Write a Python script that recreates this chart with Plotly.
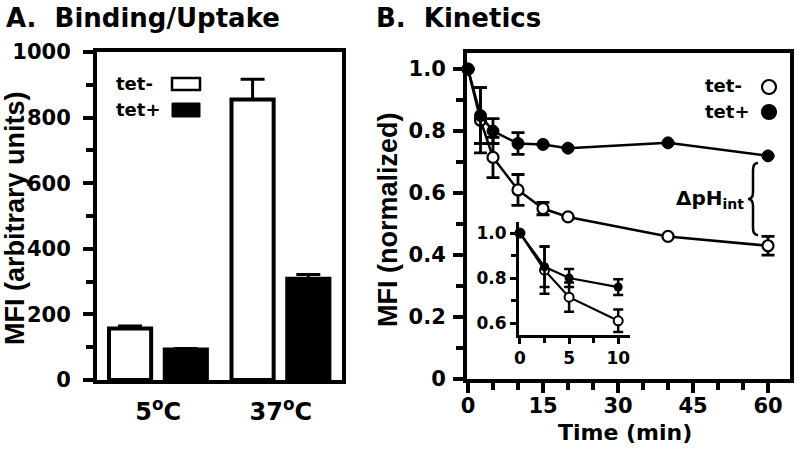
import plotly.graph_objects as go

# ---------------- data ----------------
temps = ["5<sup>o</sup>C", "37<sup>o</sup>C"]
uptake_tet_minus = [157, 855]
uptake_tet_minus_err = [8, 62]
uptake_tet_plus = [93, 309]
uptake_tet_plus_err = [3, 13]

times = [0, 2.5, 5, 10, 15, 20, 40, 60]
mfi_tet_minus = [1.0, 0.835, 0.715, 0.61, 0.55, 0.523, 0.46, 0.43]
mfi_tet_minus_err = [0, 0.105, 0.065, 0.05, 0.02, 0, 0, 0.03]
mfi_tet_plus = [1.0, 0.85, 0.80, 0.76, 0.757, 0.745, 0.762, 0.72]
mfi_tet_plus_err = [0, 0.09, 0.04, 0.035, 0, 0, 0, 0]

inset_max_time = 10

b_yticks = [0, 0.2, 0.4, 0.6, 0.8, 1.0]
b_yticktext = ["0", "0.2", "0.4", "0.6", "0.8", "1.0"]
b_xticks = [0, 15, 30, 45, 60]
inset_yticks = [0.6, 0.8, 1.0]
inset_yticktext = ["0.6", "0.8", "1.0"]
inset_xticks = [0, 5, 10]

W, H = 800, 453
HF = "DejaVu Sans"
VF = "Liberation Sans"


def px(x, y):
    return x / W, 1 - y / H


def dom_x(a, b):
    return [a / W, b / W]


def dom_y(top, bottom):
    return [1 - bottom / H, 1 - top / H]


ins = [t <= inset_max_time for t in times]
in_t = [t for t, k in zip(times, ins) if k]
in_m = [v for v, k in zip(mfi_tet_minus, ins) if k]
in_me = [v for v, k in zip(mfi_tet_minus_err, ins) if k]
in_p = [v for v, k in zip(mfi_tet_plus, ins) if k]
in_pe = [v for v, k in zip(mfi_tet_plus_err, ins) if k]

fig = go.Figure()

# ---- Panel A bars ----
bw = 0.344
fig.add_trace(go.Bar(
    x=temps, y=uptake_tet_minus, width=bw, offset=-0.402,
    marker=dict(color="white", line=dict(color="black", width=4)),
    error_y=dict(type="data", array=uptake_tet_minus_err, arrayminus=[0, 0],
                 symmetric=False, color="black", thickness=3, width=12),
    xaxis="x", yaxis="y", showlegend=False, name="tet-"))
fig.add_trace(go.Bar(
    x=temps, y=uptake_tet_plus, width=bw, offset=0.053,
    marker=dict(color="black", line=dict(color="black", width=4)),
    error_y=dict(type="data", array=uptake_tet_plus_err, arrayminus=[0, 0],
                 symmetric=False, color="black", thickness=3, width=12),
    xaxis="x", yaxis="y", showlegend=False, name="tet+"))

# ---- Panel B main ----
fig.add_trace(go.Scatter(
    x=times, y=mfi_tet_minus, mode="lines+markers",
    line=dict(color="black", width=2.5),
    marker=dict(size=11, color="white", line=dict(color="black", width=2.2)),
    error_y=dict(type="data", array=mfi_tet_minus_err, color="black", thickness=2.8, width=6.5),
    cliponaxis=False, xaxis="x2", yaxis="y2", showlegend=False, name="tet-"))
fig.add_trace(go.Scatter(
    x=times, y=mfi_tet_plus, mode="lines+markers",
    line=dict(color="black", width=2.5),
    marker=dict(size=12, color="black", line=dict(color="black", width=1)),
    error_y=dict(type="data", array=mfi_tet_plus_err, color="black", thickness=2.8, width=6.5),
    cliponaxis=False, xaxis="x2", yaxis="y2", showlegend=False, name="tet+"))

# ---- Inset ----
fig.add_trace(go.Scatter(
    x=in_t, y=in_m, mode="lines+markers",
    line=dict(color="black", width=2.2),
    marker=dict(size=9, color="white", line=dict(color="black", width=2)),
    error_y=dict(type="data", array=in_me, color="black", thickness=2.5, width=5),
    cliponaxis=False, xaxis="x3", yaxis="y3", showlegend=False))
fig.add_trace(go.Scatter(
    x=in_t, y=in_p, mode="lines+markers",
    line=dict(color="black", width=2.2),
    marker=dict(size=9, color="black"),
    error_y=dict(type="data", array=in_pe, color="black", thickness=2.5, width=5),
    cliponaxis=False, xaxis="x3", yaxis="y3", showlegend=False))

tickfont = dict(family=HF, size=21, color="black", weight="bold")
main_ax = dict(showline=True, linewidth=4, linecolor="black", mirror=True,
               showgrid=False, zeroline=False, ticks="outside", ticklen=10,
               tickwidth=3.5, tickcolor="black", tickfont=tickfont,
               automargin=False)
inset_font = dict(family=HF, size=17, color="black", weight="bold")
inset_ax = dict(showline=True, linewidth=3, linecolor="black", mirror=False,
                showgrid=False, zeroline=False, ticks="outside", ticklen=6,
                tickwidth=3, tickcolor="black", tickfont=inset_font,
                automargin=False)

fig.update_layout(
    width=W, height=H,
    margin=dict(l=0, r=0, t=0, b=0, pad=0, autoexpand=False),
    paper_bgcolor="white", plot_bgcolor="rgba(0,0,0,0)", barmode="overlay",
    showlegend=False,
    xaxis=dict(main_ax, domain=dom_x(97, 342), range=[-0.5, 1.5], ticks="",
               tickfont=dict(tickfont, size=24), ticklabelstandoff=7,
               anchor="y"),
    yaxis=dict(main_ax, domain=dom_y(52, 380), range=[0, 1000], dtick=200,
               ticklabelstandoff=8,
               minor=dict(dtick=100, ticks="outside", ticklen=7, tickwidth=3.5,
                          tickcolor="black"), anchor="x"),
    xaxis2=dict(main_ax, domain=dom_x(467, 790), range=[-0.2, 64.4],
                tickvals=b_xticks, ticklabelstandoff=-5,
                minor=dict(dtick=5, ticks="outside", ticklen=7, tickwidth=3.5,
                           tickcolor="black"), anchor="y2"),
    yaxis2=dict(main_ax, domain=dom_y(53, 379), range=[0, 1.052],
                tickvals=b_yticks, ticktext=b_yticktext, ticklabelstandoff=3,
                minor=dict(dtick=0.1, ticks="outside", ticklen=7, tickwidth=3.5,
                           tickcolor="black"), anchor="x2"),
    xaxis3=dict(inset_ax, domain=dom_x(519, 630), range=[-0.1, 11.2],
                tickvals=inset_xticks,
                minor=dict(dtick=2.5, ticks="outside", ticklen=5, tickwidth=3,
                           tickcolor="black"), anchor="y3"),
    yaxis3=dict(inset_ax, domain=dom_y(222, 335), range=[0.547, 1.049],
                tickvals=inset_yticks, ticktext=inset_yticktext,
                minor=dict(dtick=0.1, ticks="outside", ticklen=5, tickwidth=3,
                           tickcolor="black"), anchor="x3"),
)


def ann(text, x, y, size, family=HF, xanchor="left", yanchor="middle", angle=0):
    ax, ay = px(x, y)
    fig.add_annotation(text=text, x=ax, y=ay, xref="paper", yref="paper",
                       xanchor=xanchor, yanchor=yanchor, showarrow=False,
                       textangle=angle,
                       font=dict(family=family, size=size, color="black", weight="bold"))


# panel titles
ann("A.\u00a0\u00a0Binding/Uptake", 4, 18, 26)
ann("B.\u00a0\u00a0Kinetics", 374, 18, 26)
# axis titles
ann("MFI (arbitrary units)", 15, 218, 27, family=VF, xanchor="center", angle=-90)
ann("MFI (normalized)", 388, 220, 27, family=VF, xanchor="center", angle=-90)
ann("Time (min)", 625, 432, 22, xanchor="center")
# legends
ann("tet-", 114, 83, 18)
ann("tet+", 114, 109, 18)
ann("tet-", 703, 86, 18)
ann("tet+", 703, 111, 18)
# delta pH annotation
ann("\u0394pH<sub>int</sub>", 746, 199, 20, xanchor="right")

# legend keys
x0, y0 = px(172, 78)
x1, y1 = px(200, 90)
fig.add_shape(type="rect", xref="paper", yref="paper", x0=x0, y0=y0, x1=x1, y1=y1,
              fillcolor="white", line=dict(color="black", width=2.5))
x0, y0 = px(172, 103)
x1, y1 = px(200, 117)
fig.add_shape(type="rect", xref="paper", yref="paper", x0=x0, y0=y0, x1=x1, y1=y1,
              fillcolor="black", line=dict(color="black", width=1))
for cy, fill in [(87, "white"), (112, "black")]:
    cx, cyp = px(769, cy)
    fig.add_shape(type="circle", xref="paper", yref="paper",
                  xsizemode="pixel", ysizemode="pixel", xanchor=cx, yanchor=cyp,
                  x0=-7, x1=7, y0=-7, y1=7, fillcolor=fill,
                  line=dict(color="black", width=2.2))

# brace
pts = [(758, 163), (753, 163), (753, 170), (753, 192), (753, 199), (748, 199),
       (753, 199), (753, 206), (753, 228), (753, 235), (758, 235)]
P = [px(*p) for p in pts]
path = (f"M {P[0][0]},{P[0][1]} Q {P[1][0]},{P[1][1]} {P[2][0]},{P[2][1]} "
        f"L {P[3][0]},{P[3][1]} Q {P[4][0]},{P[4][1]} {P[5][0]},{P[5][1]} "
        f"Q {P[6][0]},{P[6][1]} {P[7][0]},{P[7][1]} L {P[8][0]},{P[8][1]} "
        f"Q {P[9][0]},{P[9][1]} {P[10][0]},{P[10][1]}")
fig.add_shape(type="path", xref="paper", yref="paper", path=path,
              line=dict(color="black", width=2.5))

fig.write_html("out.html", config={"displayModeBar": False},
               post_script="document.body.style.margin='0px';"
                           "document.body.style.overflow='hidden';")
